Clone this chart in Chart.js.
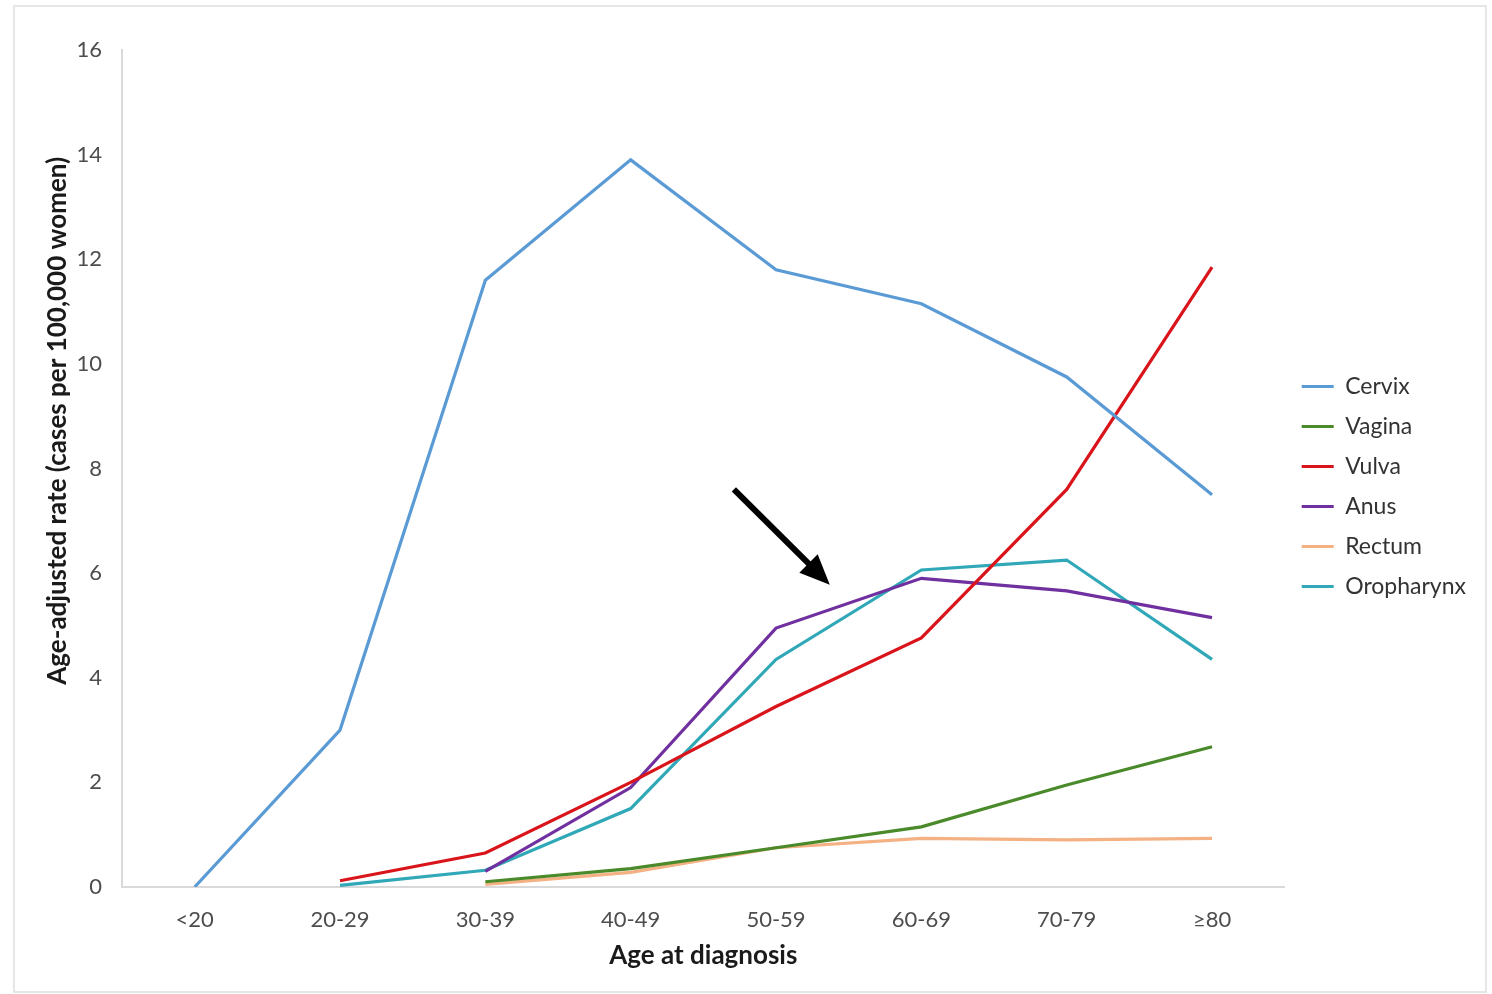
<!DOCTYPE html>
<html>
<head>
<meta charset="utf-8">
<script src="https://cdn.jsdelivr.net/npm/chart.js@4/dist/chart.umd.min.js"></script>
<style>
  body { margin: 0; background: #fff; }
  #wrap { position: relative; width: 1492px; height: 994px; }
  #frame { position: absolute; left: 13px; top: 5px; width: 1470px; height: 984px; border: 2px solid #e6e6e6; pointer-events: none; }
</style>
</head>
<body>
<div id="wrap">
  <canvas id="rates" width="1492" height="994"></canvas>
  <div id="frame"></div>
</div>
<script>
const ageGroups = ["<20", "20-29", "30-39", "40-49", "50-59", "60-69", "70-79", "\u226580"];

const cervix     = [0, 3.0, 11.6, 13.9, 11.8, 11.15, 9.75, 7.5];
const vagina     = [null, null, 0.1, 0.35, 0.75, 1.15, 1.95, 2.68];
const vulva      = [null, 0.12, 0.65, 2.0, 3.45, 4.76, 7.6, 11.85];
const anus       = [null, null, 0.3, 1.9, 4.95, 5.9, 5.66, 5.15];
const rectum     = [null, null, 0.05, 0.28, 0.75, 0.93, 0.9, 0.93];
const oropharynx = [null, 0.03, 0.32, 1.5, 4.35, 6.06, 6.25, 4.35];

const yTicks = [0, 2, 4, 6, 8, 10, 12, 14, 16];

// arrow annotation in data coordinates: [category index, rate]
const arrowFrom = [3.71, 7.6];
const arrowTo = [4.37, 5.78];

const fontFam = "Lato, 'Open Sans', sans-serif";

function series(label, data, color) {
  return {
    label: label,
    data: data,
    borderColor: color,
    backgroundColor: color,
    borderWidth: 3.2,
    pointRadius: 0,
    tension: 0,
    spanGaps: false
  };
}

const arrowPlugin = {
  id: "arrow",
  afterDatasetsDraw(chart) {
    const x = chart.scales.x, y = chart.scales.y, ctx = chart.ctx;
    const x1 = x.getPixelForValue(arrowFrom[0]), y1 = y.getPixelForValue(arrowFrom[1]);
    const x2 = x.getPixelForValue(arrowTo[0]), y2 = y.getPixelForValue(arrowTo[1]);
    const ang = Math.atan2(y2 - y1, x2 - x1);
    const head = 30, wing = 13;
    const bx = x2 - head * Math.cos(ang), by = y2 - head * Math.sin(ang);
    ctx.save();
    ctx.strokeStyle = "#000";
    ctx.fillStyle = "#000";
    ctx.lineWidth = 6;
    ctx.beginPath();
    ctx.moveTo(x1, y1);
    ctx.lineTo(bx + 2 * Math.cos(ang), by + 2 * Math.sin(ang));
    ctx.stroke();
    ctx.beginPath();
    ctx.moveTo(x2, y2);
    ctx.lineTo(bx + wing * Math.sin(ang), by - wing * Math.cos(ang));
    ctx.lineTo(bx - wing * Math.sin(ang), by + wing * Math.cos(ang));
    ctx.closePath();
    ctx.fill();
    ctx.restore();
  }
};

// y title drawn by hand so it can sit above the plot centre like the original
const yTitlePlugin = {
  id: "ytitle",
  afterDraw(chart) {
    const ctx = chart.ctx, area = chart.chartArea;
    ctx.save();
    ctx.translate(58, area.top + (area.bottom - area.top) * 0.443);
    ctx.rotate(-Math.PI / 2);
    ctx.font = "bold 26px " + fontFam;
    ctx.fillStyle = "#1a1a1a";
    ctx.textAlign = "center";
    ctx.textBaseline = "middle";
    ctx.fillText("Age-adjusted rate (cases per 100,000 women)", 0, 0);
    ctx.restore();
  }
};

new Chart(document.getElementById("rates"), {
  type: "line",
  data: {
    labels: ageGroups,
    datasets: [
      series("Cervix", cervix, "#5b9bd5"),
      series("Vagina", vagina, "#4a8a2a"),
      series("Vulva", vulva, "#d9141a"),
      series("Anus", anus, "#7030a0"),
      series("Rectum", rectum, "#f4b183"),
      series("Oropharynx", oropharynx, "#30a8b8")
    ]
  },
  options: {
    responsive: false,
    animation: false,
    layout: { padding: { left: 0, top: 50, right: 16, bottom: 23 } },
    plugins: {
      legend: {
        position: "right",
        fullSize: false,
        title: { display: true, text: " ", padding: 6, font: { size: 20 } },
        labels: {
          boxWidth: 32,
          boxHeight: 3,
          padding: 17,
          color: "#333",
          font: { family: fontFam, size: 23 },
          generateLabels(chart) {
            return Chart.defaults.plugins.legend.labels.generateLabels(chart).map(l => {
              l.lineWidth = 0;
              return l;
            });
          }
        }
      },
      tooltip: { enabled: false }
    },
    scales: {
      x: {
        offset: true,
        afterFit(scale) { scale.height = 84; },
        grid: { drawOnChartArea: false, drawTicks: false },
        border: { color: "#d9d9d9", width: 2 },
        ticks: { color: "#4d4d4d", padding: 20, font: { family: fontFam, size: 22 } },
        title: {
          display: true,
          text: "Age at diagnosis",
          color: "#1a1a1a",
          padding: { top: 4, bottom: 0 },
          font: { family: fontFam, size: 26, weight: "bold" }
        }
      },
      y: {
        min: 0,
        max: 16,
        afterFit(scale) { scale.width = 122; },
        afterBuildTicks(scale) {
          scale.ticks = yTicks.map(v => ({ value: v }));
        },
        grid: { drawOnChartArea: false, drawTicks: false },
        border: { color: "#d9d9d9", width: 2 },
        ticks: { color: "#4d4d4d", padding: 20, font: { family: fontFam, size: 22 } }
      }
    }
  },
  plugins: [arrowPlugin, yTitlePlugin]
});
</script>
</body>
</html>
